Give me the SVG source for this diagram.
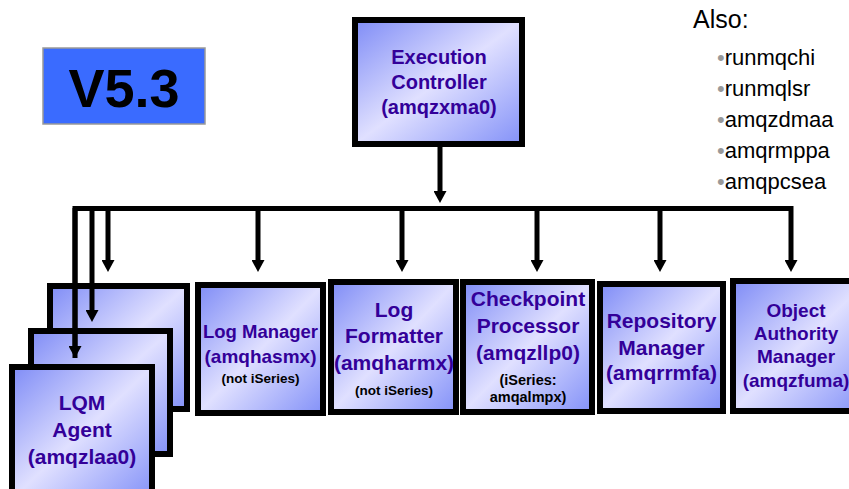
<svg xmlns="http://www.w3.org/2000/svg" width="849" height="489" viewBox="0 0 849 489">
  <defs>
    <linearGradient id="boxFill" x1="0" y1="0" x2="1" y2="1">
      <stop offset="0" stop-color="#7f8cf6"/>
      <stop offset="0.5" stop-color="#e0e0ff"/>
      <stop offset="1" stop-color="#8391f8"/>
    </linearGradient>
    <marker id="arrow" markerUnits="userSpaceOnUse" markerWidth="13" markerHeight="13" viewBox="0 0 12 13" refX="1" refY="6.5" orient="auto">
      <path d="M0,0 L12,6.5 L0,13 Z" fill="#000"/>
    </marker>
    <style>
      .box { fill: url(#boxFill); stroke: #000; stroke-width: 6; }
      .lbl { font-family: "Liberation Sans", Arial, sans-serif; font-weight: bold; fill: #330099; text-anchor: middle; }
      .note { font-family: "Liberation Sans", Arial, sans-serif; font-weight: bold; fill: #000; text-anchor: middle; }
      .wire { fill: none; stroke: #000; stroke-width: 5; }
      .drop { fill: none; stroke: #000; stroke-width: 5; marker-end: url(#arrow); }
      .list { font-family: "Liberation Sans", Arial, sans-serif; font-size: 22px; fill: #000; }
      .dot { fill: #999; }
    </style>
  </defs>

  <!-- version badge -->
  <g id="version">
    <rect x="43" y="48" width="162" height="76" fill="#3a6bff" stroke="#999" stroke-width="1.5"/>
    <text x="124" y="107" font-family="Liberation Sans, Arial, sans-serif" font-weight="bold" font-size="54" text-anchor="middle" fill="#000">V5.3</text>
  </g>

  <!-- other processes -->
  <g id="also">
    <text x="693" y="28" font-family="Liberation Sans, Arial, sans-serif" font-size="25" fill="#000">Also:</text>
    <text class="list" x="717" y="65"><tspan class="dot">•</tspan>runmqchi</text>
    <text class="list" x="717" y="96"><tspan class="dot">•</tspan>runmqlsr</text>
    <text class="list" x="717" y="127"><tspan class="dot">•</tspan>amqzdmaa</text>
    <text class="list" x="717" y="158"><tspan class="dot">•</tspan>amqrmppa</text>
    <text class="list" x="717" y="189"><tspan class="dot">•</tspan>amqpcsea</text>
  </g>

  <g id="execution-controller">
    <rect class="box" x="355" y="20" width="167" height="124"/>
    <text class="lbl" font-size="20" x="439" y="64">Execution</text>
    <text class="lbl" font-size="20" x="439" y="89">Controller</text>
    <text class="lbl" font-size="20" x="439" y="114">(amqzxma0)</text>
  </g>

  <!-- stacked LQM agent instances -->
  <g id="lqm-agent-3">
    <rect class="box" x="50" y="286" width="137" height="123"/>
  </g>
  <g id="lqm-agent-2">
    <rect class="box" x="31" y="331" width="139" height="123"/>
  </g>
  <g id="lqm-agent">
    <rect class="box" x="12" y="367" width="140" height="132"/>
    <text class="lbl" font-size="21" x="82" y="410">LQM</text>
    <text class="lbl" font-size="21" x="82" y="437">Agent</text>
    <text class="lbl" font-size="21" x="82" y="464">(amqzlaa0)</text>
  </g>

  <g id="log-manager">
    <rect class="box" x="198" y="285" width="125" height="128"/>
    <text class="lbl" font-size="18.5" x="260.5" y="338">Log Manager</text>
    <text class="lbl" font-size="19" x="260.5" y="363">(amqhasmx)</text>
    <text class="note" font-size="13.5" x="260.5" y="383">(not iSeries)</text>
  </g>

  <g id="log-formatter">
    <rect class="box" x="331" y="282" width="125" height="130"/>
    <text class="lbl" font-size="21" x="394" y="317">Log</text>
    <text class="lbl" font-size="21" x="394" y="343">Formatter</text>
    <text class="lbl" font-size="21" x="394" y="370">(amqharmx)</text>
    <text class="note" font-size="13.5" x="394" y="395">(not iSeries)</text>
  </g>

  <g id="checkpoint-processor">
    <rect class="box" x="463" y="282" width="129" height="130"/>
    <text class="lbl" font-size="21" x="528" y="306">Checkpoint</text>
    <text class="lbl" font-size="21" x="528" y="333">Processor</text>
    <text class="lbl" font-size="21" x="528" y="360">(amqzllp0)</text>
    <text class="note" font-size="14.5" x="528" y="385">(iSeries:</text>
    <text class="note" font-size="14.5" x="528" y="402">amqalmpx)</text>
  </g>

  <g id="repository-manager">
    <rect class="box" x="600" y="284" width="123" height="127"/>
    <text class="lbl" font-size="21" x="661.5" y="328">Repository</text>
    <text class="lbl" font-size="21" x="661.5" y="355">Manager</text>
    <text class="lbl" font-size="21" x="661.5" y="380">(amqrrmfa)</text>
  </g>

  <g id="object-authority-manager">
    <rect class="box" x="733" y="281" width="134" height="130"/>
    <text class="lbl" font-size="19" x="796" y="317">Object</text>
    <text class="lbl" font-size="19" x="796" y="340">Authority</text>
    <text class="lbl" font-size="19" x="796" y="363">Manager</text>
    <text class="lbl" font-size="19" x="796" y="387">(amqzfuma)</text>
  </g>

  <!-- connectors -->
  <g id="connectors">
    <path class="drop" d="M440,147 V192"/>
    <path class="wire" d="M75,358 V208.5 H791"/>
    <path class="drop" d="M75,208 V347"/>
    <path class="drop" d="M92,208 V311"/>
    <path class="drop" d="M108,208 V261"/>
    <path class="drop" d="M258,208 V261"/>
    <path class="drop" d="M402,208 V261"/>
    <path class="drop" d="M537,208 V261"/>
    <path class="drop" d="M660,208 V261"/>
    <path class="drop" d="M791,206 V261"/>
  </g>
</svg>
